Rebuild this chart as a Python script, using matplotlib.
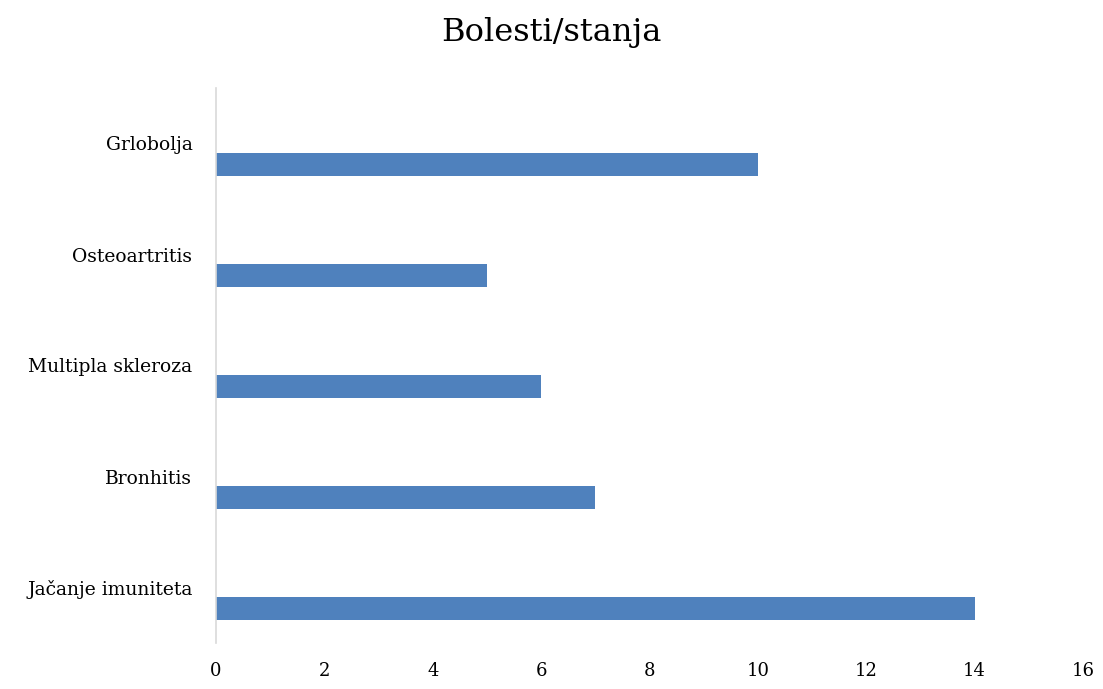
import matplotlib.pyplot as plt

categories = ["Jačanje imuniteta", "Bronhitis", "Multipla skleroza", "Osteoartritis", "Grlobolja"]
values = [14, 7, 6, 5, 10]
xticks = [0, 2, 4, 6, 8, 10, 12, 14, 16]

plt.rcParams['font.family'] = ['DejaVu Serif', 'Liberation Serif']

fig = plt.figure(figsize=(11.03, 6.89), dpi=100)
ax = fig.add_axes([216/1103, 1 - 643/689, (1083 - 216)/1103, (643 - 88)/689])

pos = list(range(len(categories)))
ax.barh([p - 0.19 for p in pos], values, height=0.21, color="#4F81BD")

ax.set_xlim(0, 16)
ax.set_ylim(-0.5, len(categories) - 0.5)
ax.set_xticks(xticks)
ax.set_xticklabels([str(t) for t in xticks], fontsize=13)
ax.set_yticks(pos)
ax.set_yticklabels(categories, fontsize=13.5)
ax.tick_params(axis='both', length=0)
ax.tick_params(axis='y', pad=17)
ax.tick_params(axis='x', pad=14)

for s in ["top", "right", "bottom"]:
    ax.spines[s].set_visible(False)
ax.spines["left"].set_color("#D9D9D9")
ax.spines["left"].set_linewidth(1.2)

fig.text(0.5, 1 - 32/689, "Bolesti/stanja", ha="center", va="center", fontsize=23)

fig.savefig("out.png", dpi=100)
